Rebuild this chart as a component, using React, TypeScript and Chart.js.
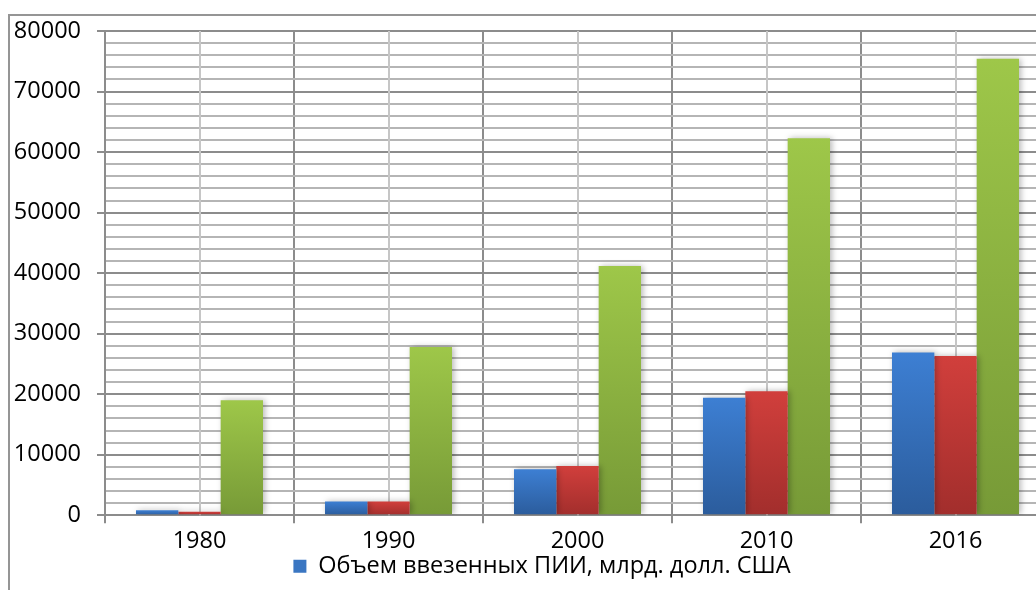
import React, { useEffect, useRef } from 'react';
import { Chart, registerables } from 'chart.js';

Chart.register(...registerables);

const categories = ['1980', '1990', '2000', '2010', '2016'];
const importedFdi = [830, 2300, 7600, 19400, 26900];
const exportedFdi = [600, 2300, 8150, 20500, 26300];
const worldGdp = [19000, 27800, 41200, 62300, 75400];
const seriesNames = [
  'Объем ввезенных ПИИ, млрд. долл. США',
  'Объем вывезенных ПИИ, млрд. долл. США',
  'Мировой ВВП, млрд. долл. США',
];
const yMax = 80000;
const yMinorStep = 2000;
const yMajorStep = 10000;

const FONT = '"Open Sans", "Noto Sans", sans-serif';
const FONT_SIZE = 23.5;

function barGradient(top: string, bottom: string) {
  return (ctx: any) => {
    const chart = ctx.chart;
    const area = chart.chartArea;
    if (!area || ctx.type !== 'data') return top;
    const y = chart.scales.y.getPixelForValue(ctx.raw);
    const b = chart.scales.y.getPixelForValue(0);
    if (!isFinite(y) || !isFinite(b) || Math.abs(b - y) < 1) return top;
    const g = chart.ctx.createLinearGradient(0, y, 0, b);
    g.addColorStop(0, top);
    g.addColorStop(1, bottom);
    return g;
  };
}

const centerLines = {
  id: 'centerLines',
  beforeDatasetsDraw(chart: any) {
    const { ctx, chartArea, scales } = chart;
    ctx.save();
    ctx.strokeStyle = '#c6c6c6';
    ctx.lineWidth = 2;
    categories.forEach((_, i) => {
      const px = Math.round(scales.x.getPixelForValue(i));
      ctx.beginPath();
      ctx.moveTo(px, chartArea.top);
      ctx.lineTo(px, chartArea.bottom);
      ctx.stroke();
    });
    ctx.restore();
  },
};

const barShadow = {
  id: 'barShadow',
  beforeDatasetsDraw(chart: any) {
    const ctx = chart.ctx;
    ctx.save();
    ctx.shadowColor = 'rgba(0,0,0,0.28)';
    ctx.shadowBlur = 6;
    ctx.shadowOffsetX = 2;
    ctx.shadowOffsetY = 0;
  },
  afterDatasetsDraw(chart: any) {
    chart.ctx.restore();
  },
};

const legendShift = {
  id: 'legendShift',
  afterLayout(chart: any) {
    const lg = chart.legend;
    if (lg) {
      lg.left += 12;
      lg.right += 12;
    }
  },
};

export default function App() {
  const canvasRef = useRef<HTMLCanvasElement | null>(null);

  useEffect(() => {
    if (!canvasRef.current) return;
    const isMajor = (c: any) => c.tick && c.tick.value % yMajorStep === 0;
    const chart = new Chart(canvasRef.current, {
      type: 'bar',
      data: {
        labels: categories,
        datasets: [
          {
            label: seriesNames[0],
            data: importedFdi,
            backgroundColor: barGradient('#3d7fd3', '#2b5c9c'),
          },
          {
            label: seriesNames[1],
            data: exportedFdi,
            backgroundColor: barGradient('#d13f3c', '#a22e2c'),
          },
          {
            label: seriesNames[2],
            data: worldGdp,
            backgroundColor: barGradient('#9ec749', '#779a37'),
          },
        ],
      },
      options: {
        responsive: false,
        animation: false,
        categoryPercentage: 0.672,
        barPercentage: 1,
        layout: { padding: { top: 15, right: 24, left: 0, bottom: 28 } },
        plugins: {
          tooltip: { enabled: false },
          legend: {
            position: 'bottom',
            labels: {
              boxWidth: 13,
              boxHeight: 13,
              padding: 0,
              color: '#000',
              font: { family: FONT, size: FONT_SIZE },
              generateLabels: () => [
                {
                  text: seriesNames[0],
                  fillStyle: '#3a76c2',
                  strokeStyle: '#3a76c2',
                  lineWidth: 0,
                  datasetIndex: 0,
                  hidden: false,
                },
              ],
            },
          },
        },
        scales: {
          x: {
            afterFit: (scale: any) => {
              scale.height = scale.height - 5;
            },
            grid: {
              offset: true,
              color: '#8c8c8c',
              lineWidth: 2,
              tickLength: 8,
              tickColor: '#8c8c8c',
            },
            border: { color: '#8c8c8c', width: 2 },
            ticks: {
              color: '#000',
              padding: 4,
              font: { family: FONT, size: FONT_SIZE },
            },
          },
          y: {
            min: 0,
            max: yMax,
            afterFit: (scale: any) => {
              scale.width = 95;
              scale.paddingTop = 0;
              scale.paddingBottom = 0;
            },
            grid: {
              color: (c: any) => (isMajor(c) ? '#8c8c8c' : '#b5b5b5'),
              lineWidth: 2,
              tickLength: 8,
              tickColor: (c: any) => (isMajor(c) ? '#8c8c8c' : 'rgba(0,0,0,0)'),
            },
            border: { color: '#8c8c8c', width: 2 },
            ticks: {
              stepSize: yMinorStep,
              autoSkip: false,
              color: '#000',
              padding: 16,
              font: { family: FONT, size: FONT_SIZE },
              callback: (v: any) => (Number(v) % yMajorStep === 0 ? String(v) : ''),
            },
          },
        },
      },
      plugins: [centerLines, barShadow, legendShift],
    } as any);
    return () => chart.destroy();
  }, []);

  return (
    <div
      style={{
        position: 'fixed',
        left: 0,
        top: 0,
        width: 1036,
        height: 590,
        overflow: 'hidden',
        background: '#fff',
      }}
    >
      <div
        style={{
          position: 'absolute',
          left: 8,
          top: 14,
          width: 1200,
          height: 700,
          borderLeft: '2px solid #959595',
          borderTop: '2px solid #959595',
        }}
      >
        <canvas
          ref={canvasRef}
          width={1064}
          height={600}
          style={{ position: 'absolute', left: 0, top: 0, width: 1064, height: 600 }}
        />
      </div>
    </div>
  );
}
